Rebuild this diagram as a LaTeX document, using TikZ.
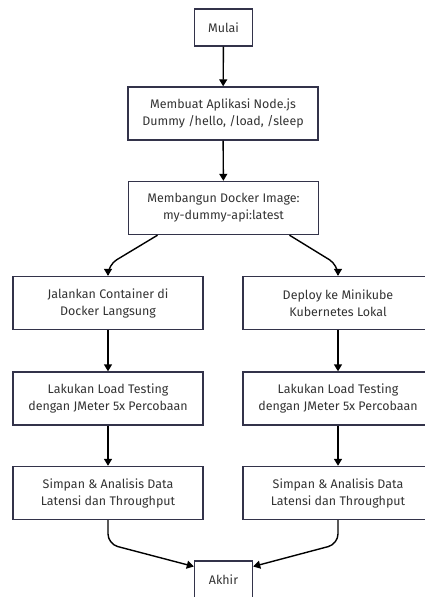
\documentclass[tikz,border=0pt]{standalone}
\usepackage{fontspec}
\setmainfont{Fira Sans}
\usepackage{tikz}
\usetikzlibrary{shapes,positioning,arrows.meta}
\definecolor{edge}{HTML}{33334A}
\definecolor{ink}{HTML}{333333}
\tikzset{stepbox/.style={rectangle,draw=edge,line width=1.4bp,fill=white,text=ink,align=center,font=\fontsize{12.5}{17}\selectfont,minimum width=190bp,minimum height=53bp,inner sep=0pt},
  endbox/.style={stepbox,minimum width=58bp,minimum height=37bp},
  arr/.style={->,line width=1.4bp,draw=black,rounded corners=10bp}}

\begin{document}
\begin{tikzpicture}[x=1bp,y=-1bp,>={Triangle[length=7bp,width=8bp]}]
        \useasboundingbox (0,0) rectangle (424,597);
        \node[endbox] (start) at (223.5,27.5) {Mulai};
        \node[stepbox] (app) at (223,113.5) {Membuat Aplikasi Node.js\\Dummy /hello, /load, /sleep};
        \node[stepbox] (build) at (223.5,208) {Membangun Docker Image:\\my-dummy-api:latest};
        \node[stepbox] (run) at (108,303) {Jalankan Container di\\Docker Langsung};
        \node[stepbox] (deploy) at (338,303) {Deploy ke Minikube\\Kubernetes Lokal};
        \node[stepbox] (testa) at (108,398.5) {Lakukan Load Testing\\dengan JMeter 5x Percobaan};
        \node[stepbox] (testb) at (338,398.5) {Lakukan Load Testing\\dengan JMeter 5x Percobaan};
        \node[stepbox] (savea) at (108,493) {Simpan \& Analisis Data\\Latensi dan Throughput};
        \node[stepbox] (saveb) at (338,493) {Simpan \& Analisis Data\\Latensi dan Throughput};
        \node[endbox] (stop) at (223.5,579.5) {Akhir};

        \draw [arr] (start) to (app);
        \draw [arr] (app) to (build);
        \draw [arr] ([xshift=-66bp]build.south) -- (run.north |- 0,265) -- (run.north);
        \draw [arr] ([xshift=66bp]build.south) -- (deploy.north |- 0,265) -- (deploy.north);
        \draw [arr] (run) to (testa);
        \draw [arr] (deploy) to (testb);
        \draw [arr] (testa) to (savea);
        \draw [arr] (testb) to (saveb);
        \draw [arr] (savea.south) -- (savea.south |- 0,544) -- ([yshift=13bp]stop.west);
        \draw [arr] (saveb.south) -- (saveb.south |- 0,544) -- ([yshift=13bp]stop.east);
    \end{tikzpicture}
\end{document}
